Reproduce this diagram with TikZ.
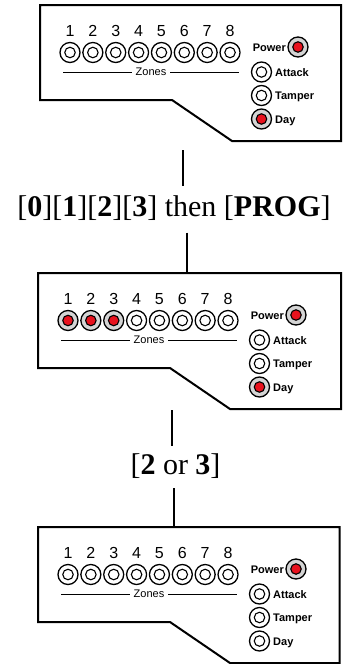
\documentclass[tikz,border=0pt]{standalone}
\usepackage{fontspec}
\setmainfont{Liberation Serif}
\setsansfont{Liberation Sans}
\definecolor{ledgray}{RGB}{212,212,212}
\definecolor{ledred}{RGB}{232,18,30}
\tikzset{
  panelline/.style={line width=2pt, line join=miter},
  conn/.style={line width=2.6pt},
  zline/.style={line width=0.8pt},
  ledoff/.style={circle, draw, line width=1.3pt, fill=white, minimum size=20pt, inner sep=0pt},
  ledon/.style={ledoff, fill=ledgray},
  ledinoff/.style={circle, draw, line width=1.1pt, fill=white, minimum size=10.5pt, inner sep=0pt},
  ledinon/.style={ledinoff, fill=ledred},
  zonenum/.style={font=\sffamily\fontsize{16}{16}\selectfont, anchor=base, inner sep=0pt},
  zonetxt/.style={font=\sffamily\fontsize{11}{11}\selectfont, inner sep=0pt},
  lbl/.style={font=\sffamily\bfseries\fontsize{11}{11}\selectfont, inner sep=0pt},
  keytext/.style={font=\fontsize{30}{30}\selectfont, inner xsep=0pt, inner ysep=10pt, text height=20pt, text depth=6pt},
}
% #1 name, #2 x, #3 y, #4 lit (1) or not (0)
\newcommand\myled[4]{%
  \ifnum#4=1
    \node[ledon] (#1) at (#2,#3) {};
    \node[ledinon] (#1-in) at (#1.center) {};
  \else
    \node[ledoff] (#1) at (#2,#3) {};
    \node[ledinoff] (#1-in) at (#1.center) {};
  \fi}
% #1 name, #2 ox, #3 oy, #4 width, #5 lit zones, #6 day lit
\newcommand\mypanel[6]{%
  \draw[panelline] (#2,#3) -- (#2+#4,#3) -- (#2+#4,#3+136) -- (#2+192,#3+136)
     -- (#2+132,#3+95) -- (#2,#3+95) -- cycle;
  \foreach \i in {1,...,8} {
    \pgfmathsetmacro\zx{#2+30+22.86*(\i-1)}
    \node[zonenum] (#1-n\i) at (\zx,#3+31.5) {\i};
    \ifnum\i>#5
      \myled{#1-z\i}{\zx}{#3+47.5}{0}
    \else
      \myled{#1-z\i}{\zx}{#3+47.5}{1}
    \fi
  }
  \node[zonetxt] (#1-zones) at (#2+111,#3+67) {Zones};
  \draw[zline] (#2+23,#3+67) -- (#2+92,#3+67);
  \draw[zline] (#2+130,#3+67) -- (#2+199,#3+67);
  \myled{#1-power}{#2+258}{#3+42}{1}
  \node[lbl, anchor=base east] (#1-lpower) at (#2+246,#3+46) {Power};
  \myled{#1-attack}{#2+221.5}{#3+67}{0}
  \node[lbl, anchor=base west] (#1-lattack) at (#2+235,#3+71) {Attack};
  \myled{#1-tamper}{#2+221.5}{#3+90.5}{0}
  \node[lbl, anchor=base west] (#1-ltamper) at (#2+235,#3+94.5) {Tamper};
  \myled{#1-day}{#2+221.5}{#3+114}{#6}
  \node[lbl, anchor=base west] (#1-lday) at (#2+235,#3+118) {Day};
}
\begin{document}
\begin{tikzpicture}[x=1pt,y=-1pt]
  \useasboundingbox (0,0) rectangle (346,664);
  \mypanel{pa}{40}{5}{301}{0}{1}
  \mypanel{pb}{38}{273}{303}{3}{1}
  \mypanel{pc}{38}{527}{301.5}{0}{0}
  \node[keytext] (t1) at (174,209.5) {[\textbf{0}][\textbf{1}][\textbf{2}][\textbf{3}] then [\textbf{PROG}]};
  \node[keytext, inner ysep=8pt] (t2) at (175.5,467) {[\textbf{2} or \textbf{3}]};
  \coordinate (c1a) at (183,150);
  \coordinate (p2top) at (187,273);
  \coordinate (c2a) at (172,410);
  \coordinate (p3top) at (174,527);
  \draw[conn] (c1a) -- (c1a |- t1.north);
  \draw[conn] (p2top |- t1.south) -- (p2top);
  \draw[conn] (c2a) -- (c2a |- t2.north);
  \draw[conn] (p3top |- t2.south) -- (p3top);
\end{tikzpicture}
\end{document}
